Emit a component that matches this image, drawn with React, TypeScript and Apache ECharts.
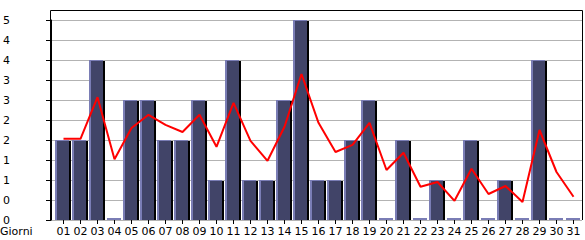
import React, { useEffect, useRef } from 'react';
import * as echarts from 'echarts';

const days = ['01','02','03','04','05','06','07','08','09','10','11','12','13','14','15','16','17','18','19','20','21','22','23','24','25','26','27','28','29','30','31'];
const barValues = [2,2,4,0,3,3,2,2,3,1,4,1,1,3,5,1,1,2,3,0,2,0,1,0,2,0,1,0,4,0,0];
const lineValues = [2.03,2.03,3.07,1.52,2.3,2.63,2.38,2.2,2.63,1.83,2.93,1.98,1.48,2.33,3.65,2.43,1.7,1.88,2.43,1.25,1.68,0.83,0.95,0.48,1.28,0.65,0.85,0.45,2.25,1.2,0.58];
const yTickLabels = ['0','0','1','1','2','2','3','3','4','4','5'];
const xAxisTitle = 'Giorni';

const FONT = 'DejaVu Sans';

export default function App() {
  const ref = useRef<HTMLDivElement>(null);
  useEffect(() => {
    document.body.style.margin = '0';
    if (!ref.current) return;
    const chart = echarts.init(ref.current, undefined, { renderer: 'svg' });
    const option: any = {
      animation: false,
      backgroundColor: '#ffffff',
      grid: [
        { left: 50, right: 3, top: 20, bottom: 20, containLabel: false },
        { left: 55, right: 3, top: 20, bottom: 20, containLabel: false },
      ],
      xAxis: [
        { gridIndex: 0, type: 'value', min: 0, max: 1, show: false },
        {
          gridIndex: 1,
          type: 'category',
          data: days,
          boundaryGap: true,
          axisLine: { show: false },
          axisTick: { show: true, alignWithLabel: true, length: 4, lineStyle: { color: '#000', width: 1 } },
          axisLabel: { color: '#000', fontFamily: FONT, fontSize: 11, lineHeight: 11, margin: 6, interval: 0 },
          splitLine: { show: false },
        },
      ],
      yAxis: [
        {
          gridIndex: 0,
          type: 'value',
          min: 0,
          max: 5,
          interval: 0.5,
          axisLine: { show: true, lineStyle: { color: '#000', width: 1 } },
          axisTick: { show: true, length: 5, lineStyle: { color: '#000', width: 1 } },
          axisLabel: {
            color: '#000', fontFamily: FONT, fontSize: 11, lineHeight: 11, align: 'left', margin: 48,
            formatter: (_v: number, idx: number) => yTickLabels[idx] ?? '',
          },
          splitLine: { show: true, lineStyle: { color: '#b3b3b3', width: 1 } },
        },
        { gridIndex: 1, type: 'value', min: 0, max: 5, show: false, splitLine: { show: false } },
      ],
      graphic: [
        {
          type: 'polyline',
          shape: { points: [[50.5, 220], [50.5, 10.5], [582.5, 10.5], [582.5, 220]] },
          style: { stroke: '#000', lineWidth: 1, fill: 'none' },
          z: 10,
        },
        {
          type: 'text',
          left: 0,
          top: 226,
          style: { text: xAxisTitle, fill: '#000', font: `11px "${FONT}"`, lineHeight: 11 },
        },
      ],
      series: [
        {
          type: 'custom',
          xAxisIndex: 1,
          yAxisIndex: 1,
          encode: { x: 0, y: 1 },
          data: barValues.map((v, i) => [i, v]),
          renderItem: (_params: any, api: any) => {
            const i = api.value(0);
            const v = api.value(1);
            const top = api.coord([i, v]);
            const bottom = api.coord([i, 0]);
            const band = api.size([1, 0])[0];
            const x0 = Math.round(top[0] - band / 2);
            const y0 = Math.round(top[1]);
            const y1 = Math.round(bottom[1]);
            const w = Math.round(band) - 3;
            if (v === 0) {
              return { type: 'rect', shape: { x: x0 + 1, y: y1 - 2, width: w, height: 2 }, style: { fill: '#7a7db5' } };
            }
            return {
              type: 'group',
              children: [
                { type: 'rect', shape: { x: x0 + w, y: y0 + 1, width: 2, height: y1 - y0 - 1 }, style: { fill: '#000' } },
                { type: 'rect', shape: { x: x0, y: y0, width: w, height: y1 - y0 }, style: { fill: '#414468' } },
                { type: 'rect', shape: { x: x0, y: y0, width: 2, height: y1 - y0 }, style: { fill: '#7a7db5' } },
                { type: 'rect', shape: { x: x0, y: y0, width: w, height: 1 }, style: { fill: '#7a7db5' } },
              ],
            };
          },
          z: 2,
        },
        {
          type: 'line',
          xAxisIndex: 1,
          yAxisIndex: 1,
          data: lineValues,
          symbol: 'none',
          lineStyle: { color: '#ff0000', width: 2 },
          z: 3,
        },
      ],
    };
    chart.setOption(option);
    return () => chart.dispose();
  }, []);
  return <div ref={ref} style={{ width: 585, height: 240 }} />;
}
